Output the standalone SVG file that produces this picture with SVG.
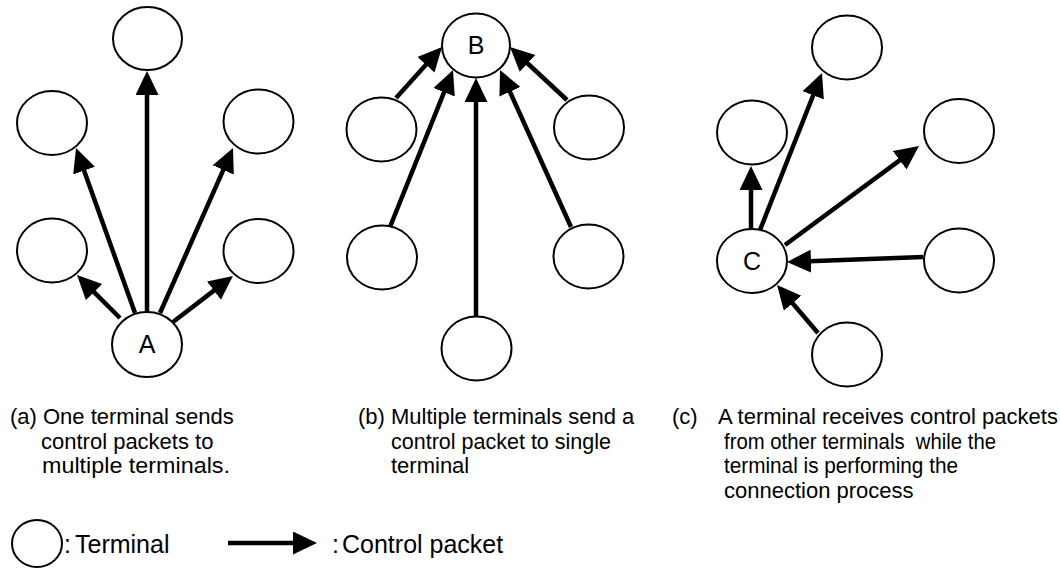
<svg xmlns="http://www.w3.org/2000/svg" width="1060" height="569" viewBox="0 0 1060 569">
<style>
.t{fill:#fff;stroke:#000;stroke-width:2}
.c{fill:none;stroke:#000;stroke-width:4.5}
.lbl{font-family:"Liberation Sans",Arial,sans-serif;font-size:25px;fill:#000;text-anchor:middle}
.cap{font-family:"Liberation Sans",Arial,sans-serif;font-size:22px;fill:#000}
.leg{font-family:"Liberation Sans",Arial,sans-serif;font-size:25px;fill:#000}
</style>
<defs>
<marker id="ah" markerUnits="userSpaceOnUse" markerWidth="26" markerHeight="24" refX="2" refY="11.5" orient="auto" viewBox="0 0 26 24">
<path d="M0,0 L24,11.5 L0,23 z" fill="#000"/>
</marker>
</defs>
<rect width="1060" height="569" fill="#fff"/>
<g id="nodes-a">
<g id="a-top"><ellipse class="t" cx="147.5" cy="38.5" rx="34.5" ry="31.5"/></g>
<g id="a-ul"><ellipse class="t" cx="52" cy="123" rx="35" ry="32"/></g>
<g id="a-ur"><ellipse class="t" cx="258.5" cy="121.5" rx="35" ry="32"/></g>
<g id="a-ll"><ellipse class="t" cx="52" cy="250.5" rx="35" ry="32"/></g>
<g id="a-lr"><ellipse class="t" cx="258.5" cy="251" rx="35" ry="32"/></g>
<g id="nodeA"><ellipse class="t" cx="147" cy="344.5" rx="35" ry="32.5"/><text class="lbl" x="147" y="353">A</text></g>
</g>
<g id="nodes-b">
<g id="nodeB"><ellipse class="t" cx="476" cy="45.5" rx="34" ry="32"/><text class="lbl" x="476" y="54">B</text></g>
<g id="b-ul"><ellipse class="t" cx="381.5" cy="129.5" rx="35" ry="32"/></g>
<g id="b-ur"><ellipse class="t" cx="589" cy="127.5" rx="35" ry="32"/></g>
<g id="b-ml"><ellipse class="t" cx="382" cy="257.5" rx="35" ry="32"/></g>
<g id="b-mr"><ellipse class="t" cx="588.5" cy="256.5" rx="35" ry="32"/></g>
<g id="b-bot"><ellipse class="t" cx="476.5" cy="348.5" rx="35" ry="32"/></g>
</g>
<g id="nodes-c">
<g id="c-top"><ellipse class="t" cx="847" cy="47.5" rx="35" ry="32"/></g>
<g id="c-ul"><ellipse class="t" cx="752" cy="132.5" rx="35" ry="32"/></g>
<g id="c-ru"><ellipse class="t" cx="959" cy="131" rx="35" ry="32"/></g>
<g id="nodeC"><ellipse class="t" cx="752" cy="261" rx="35" ry="32"/><text class="lbl" x="752" y="270">C</text></g>
<g id="c-rl"><ellipse class="t" cx="959" cy="260.5" rx="35" ry="32"/></g>
<g id="c-bot"><ellipse class="t" cx="847" cy="354.5" rx="35" ry="32"/></g>
</g>
<g id="connectors">
<path class="c" marker-end="url(#ah)" d="M147,312 L147,93"/>
<path class="c" marker-end="url(#ah)" d="M135,313 L83.4,168.7"/>
<path class="c" marker-end="url(#ah)" d="M120,318 L92.6,290.6"/>
<path class="c" marker-end="url(#ah)" d="M160,313 L224.1,168.1"/>
<path class="c" marker-end="url(#ah)" d="M173,322 L215.5,289.4"/>
<path class="c" marker-end="url(#ah)" d="M396,98 L427.3,63.3"/>
<path class="c" marker-end="url(#ah)" d="M390,227 L444.8,90.4"/>
<path class="c" marker-end="url(#ah)" d="M476,317 L476,100"/>
<path class="c" marker-end="url(#ah)" d="M571,227 L509.1,90"/>
<path class="c" marker-end="url(#ah)" d="M567,100 L526.1,62"/>
<path class="c" marker-end="url(#ah)" d="M751,229 L751,188"/>
<path class="c" marker-end="url(#ah)" d="M760,230 L813.9,93.5"/>
<path class="c" marker-end="url(#ah)" d="M785,245 L901.3,159.1"/>
<path class="c" marker-end="url(#ah)" d="M923,257 L809,261.2"/>
<path class="c" marker-end="url(#ah)" d="M818,333 L791.3,301.7"/>
</g>
<g id="captions">
<text class="cap"><tspan x="10" y="424">(a) One terminal sends</tspan><tspan x="41" y="448.5">control packets to</tspan><tspan x="42" y="473" textLength="188" lengthAdjust="spacingAndGlyphs">multiple terminals.</tspan></text>
<text class="cap"><tspan x="358" y="424">(b) Multiple terminals send a</tspan><tspan x="391" y="448.5" textLength="220" lengthAdjust="spacingAndGlyphs">control packet to single</tspan><tspan x="391" y="473">terminal</tspan></text>
<text class="cap"><tspan x="672" y="424">(c)</tspan><tspan x="718" y="424">A terminal receives control packets</tspan><tspan x="724" y="448.5" textLength="272" lengthAdjust="spacingAndGlyphs">from other terminals&#160; while the</tspan><tspan x="724" y="473" textLength="234" lengthAdjust="spacingAndGlyphs">terminal is performing the</tspan><tspan x="724" y="497.5">connection process</tspan></text>
</g>
<g id="legend">
<g id="legend-terminal"><ellipse class="t" cx="37" cy="543.5" rx="25" ry="23.5"/><text class="leg"><tspan x="64" y="553">:</tspan><tspan x="75" y="553">Terminal</tspan></text></g>
<g id="legend-packet"><path class="c" marker-end="url(#ah)" d="M228,543 L295,543"/><text class="leg"><tspan x="332" y="553">:</tspan><tspan x="342" y="553">Control packet</tspan></text></g>
</g>
</svg>
